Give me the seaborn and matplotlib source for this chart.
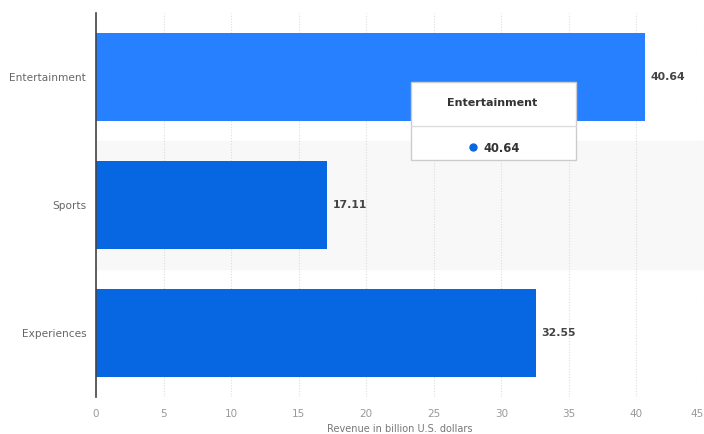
import matplotlib
matplotlib.use("Agg")
import matplotlib.pyplot as plt
import seaborn as sns
import pandas as pd
from matplotlib.patches import Rectangle
from matplotlib.lines import Line2D

categories = ["Entertainment", "Sports", "Experiences"]
revenue = [40.64, 17.11, 32.55]
x_ticks = [0, 5, 10, 15, 20, 25, 30, 35, 40, 45]
x_label = "Revenue in billion U.S. dollars"
tooltip_title = "Entertainment"
tooltip_value = "40.64"

df = pd.DataFrame({"category": categories, "revenue": revenue})

sns.set_theme(style="white")
plt.rcParams["font.family"] = ["DejaVu Sans"]

W, H = 704, 434
fig = plt.figure(figsize=(W / 100, H / 100), dpi=100)
ax = fig.add_axes([96 / W, 1 - 397 / H, (704 - 96) / W, (397 - 13) / H])

colors = ["#2680FF", "#0766E1", "#0766E1"]
ax.axhspan(0.5, 1.5, color="#F8F8F8", zorder=0)
sns.barplot(data=df, x="revenue", y="category", hue="category", palette=colors,
            order=categories, width=88 / 128, legend=False, ax=ax, zorder=3,
            saturation=1, edgecolor="none")

ax.set_xlim(0, 45)
ax.set_ylim(2.5, -0.5)
ax.set_xticks(x_ticks)
ax.set_xticklabels([str(t) for t in x_ticks])
ax.get_xticklabels()[-1].set_ha("right")
ax.xaxis.grid(True, color="#DDDDDD", linestyle=(0, (1, 1.5)), linewidth=0.8)
ax.set_axisbelow(True)
for s in ["top", "right", "bottom"]:
    ax.spines[s].set_visible(False)
ax.spines["left"].set_color("#444444")
ax.spines["left"].set_linewidth(1.2)
ax.spines["left"].set_zorder(5)
ax.tick_params(axis="x", length=0, labelsize=7.5, labelcolor="#999999", pad=8.5)
ax.tick_params(axis="y", length=0, labelsize=7.6, labelcolor="#666666", pad=7)
ax.set_ylabel("")
ax.set_xlabel(x_label, fontsize=7, color="#777777", labelpad=3.5)

for i, v in enumerate(revenue):
    ax.text(v + 0.4, i, f"{v:.2f}", va="center", ha="left", fontsize=7.8,
            fontweight="bold", color="#444444", zorder=6)

# tooltip
x0, y0, x1, y1 = 411, 82, 576, 160
fx = lambda px: px / W
fy = lambda py: 1 - py / H
shadow = Rectangle((fx(x0 + 1), fy(y1 + 1)), fx(x1 - x0), (y1 - y0) / H,
                   transform=fig.transFigure, facecolor="#000000", alpha=0.06,
                   edgecolor="none", zorder=9)
fig.patches.append(shadow)
box = Rectangle((fx(x0), fy(y1)), fx(x1 - x0), (y1 - y0) / H,
                transform=fig.transFigure, facecolor="white",
                edgecolor="#CCCCCC", linewidth=1, zorder=10)
fig.patches.append(box)
fig.lines.append(Line2D([fx(x0), fx(x1)], [fy(126), fy(126)],
                        transform=fig.transFigure, color="#DDDDDD", linewidth=1, zorder=11))
fig.text(fx((x0 + x1) / 2 - 1), fy(103), tooltip_title, ha="center", va="center",
         fontsize=8, fontweight="bold", color="#333333", zorder=12)
fig.text(fx(483), fy(148), tooltip_value, ha="left", va="center",
         fontsize=8.3, fontweight="bold", color="#333333", zorder=12)
fig.lines.append(Line2D([fx(473)], [fy(147)], marker="o", markersize=5,
                        color="#0766E1", transform=fig.transFigure, zorder=12))

fig.savefig("out.png", dpi=100)
